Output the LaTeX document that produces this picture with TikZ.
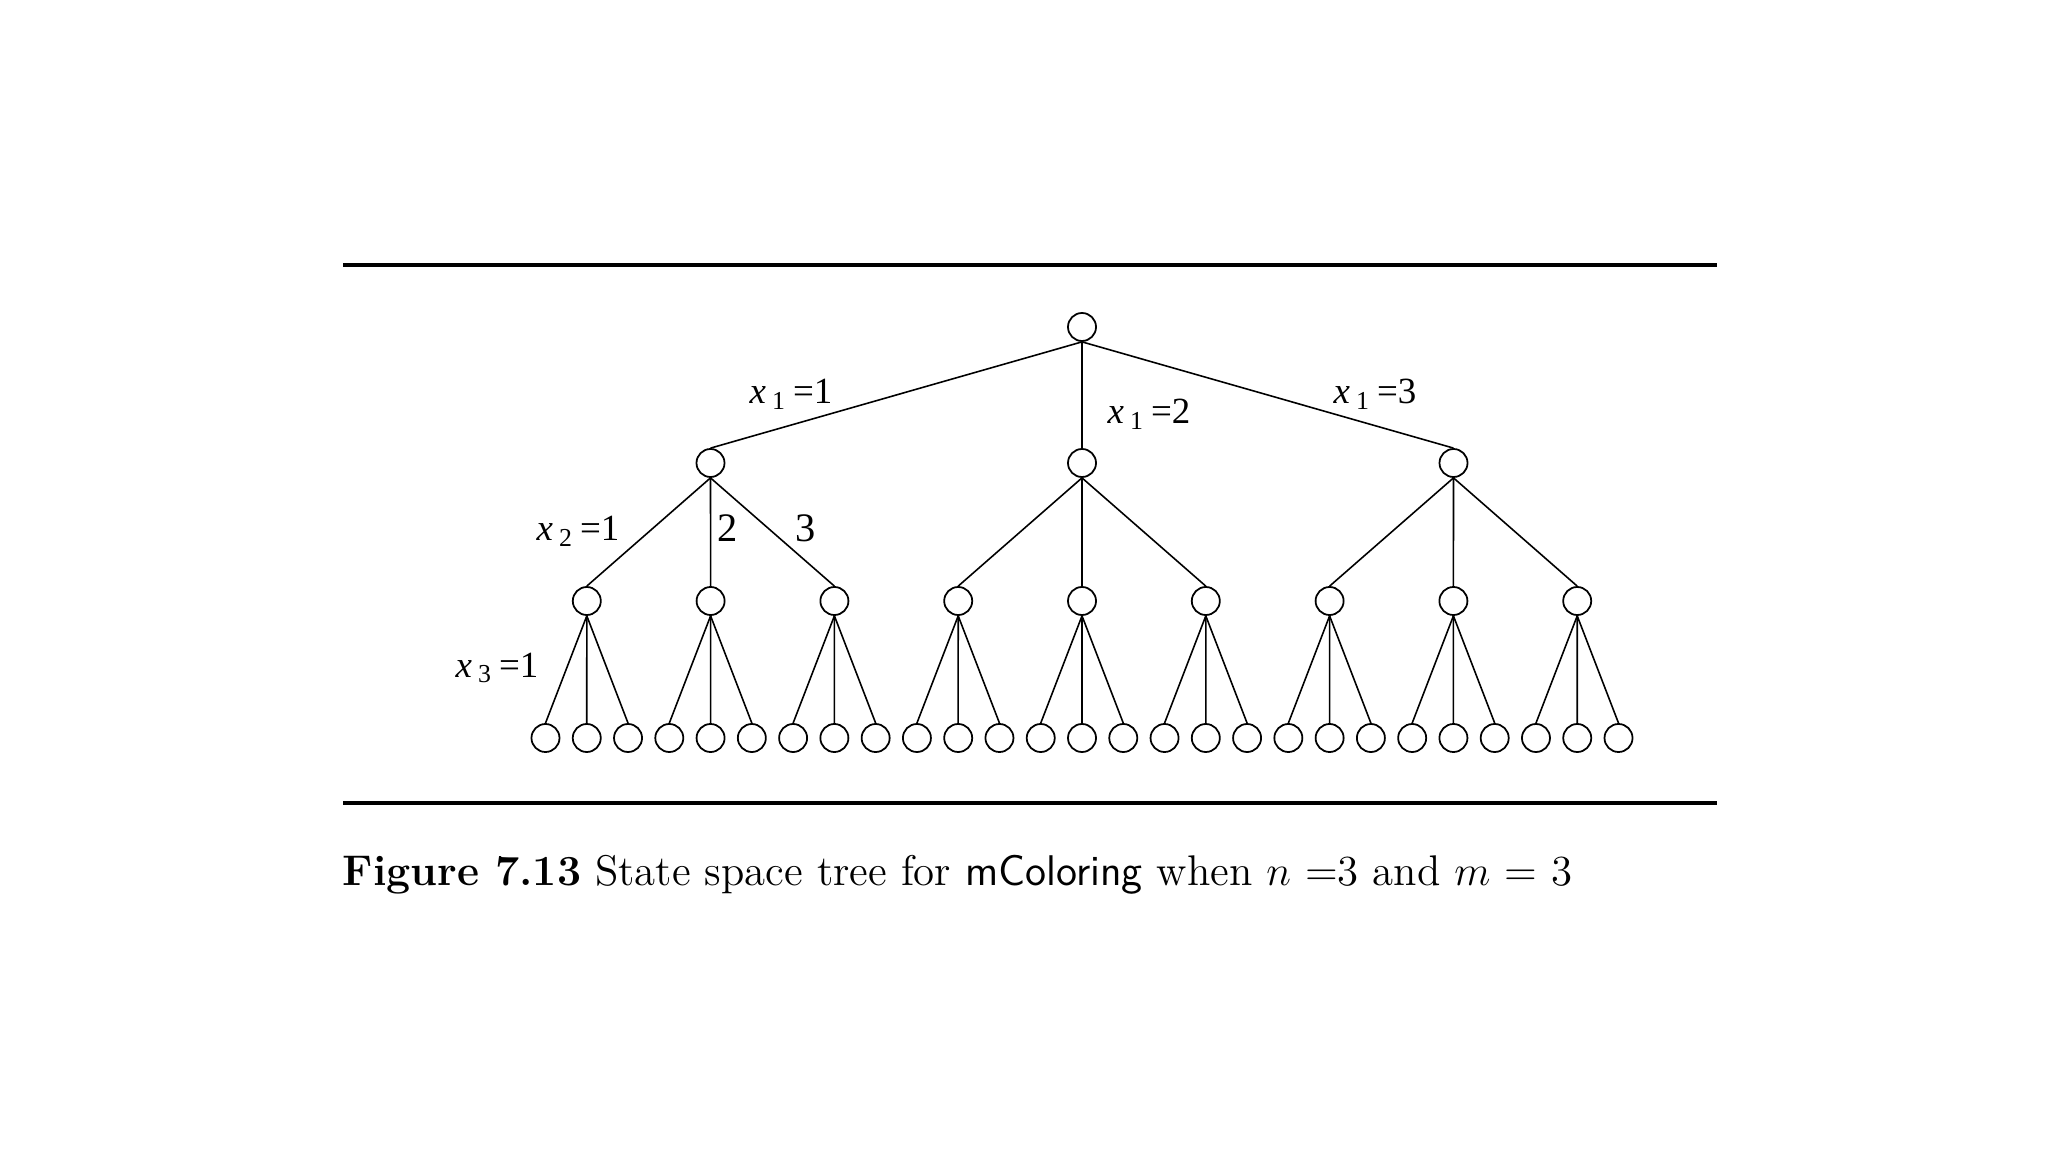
\documentclass[tikz,border=0pt]{standalone}
\usepackage{fontspec}
\newfontfamily\labfont{Liberation Serif}
\begin{document}
\begin{tikzpicture}[x=0.01cm,y=-0.01cm,
  vtx/.style={circle,draw,line width=0.5pt,minimum size=0.28cm,inner sep=0pt},
  edge/.style={line width=0.45pt},
  rule/.style={line width=0.9pt},
  lab/.style={font=\labfont\fontsize{10.5pt}{12pt}\selectfont,inner sep=0pt}]
\useasboundingbox (0,0) rectangle (2048,1152);
\fill[white] (0,0) rectangle (2048,1152);
% rules
\coordinate (tl) at (343,265); \coordinate (tr) at (1717,265);
\coordinate (bl) at (343,803); \coordinate (br) at (1717,803);
\draw[rule] (tl) -- (tr);
\draw[rule] (bl) -- (br);
% root
\node[vtx] (r) at (1082,327) {};
% level 1
\foreach \i in {1,2,3} {
  \node[vtx] (a\i) at ({1082+(\i-2)*371.5},463) {};
  \draw[edge] (r.south) -- (a\i.north);
}
% level 2
\foreach \i in {1,...,9} {
  \pgfmathtruncatemacro{\p}{int((\i-1)/3)+1}
  \node[vtx] (b\i) at ({1082+(\i-5)*123.8},601) {};
  \draw[edge] (a\p.south) -- (b\i.north);
}
% level 3
\foreach \i in {1,...,27} {
  \pgfmathtruncatemacro{\p}{int((\i-1)/3)+1}
  \node[vtx] (c\i) at ({1082+(\i-14)*41.27},738) {};
  \draw[edge] (b\p.south) -- (c\i.north);
}
% labels
\node[lab] (l1) at (791,394) {\textit{x}\,\textsubscript{1}\,=1};
\node[lab] (l2) at (1149,414) {\textit{x}\,\textsubscript{1}\,=2};
\node[lab] (l3) at (1375,394) {\textit{x}\,\textsubscript{1}\,=3};
\node[lab] (l4) at (578,531) {\textit{x}\,\textsubscript{2}\,=1};
\node[lab,font=\labfont\fontsize{11.5pt}{13pt}\selectfont] (l5) at (728,528) {2};
\node[lab,font=\labfont\fontsize{11.5pt}{13pt}\selectfont] (l6) at (806,528) {3};
\node[lab] (l7) at (497,668) {\textit{x}\,\textsubscript{3}\,=1};
% caption
\node[anchor=base west,inner sep=0pt,font=\fontsize{12.2pt}{15pt}\selectfont] (cap) at (342,885)
 {\textbf{Figure 7.13} State space tree for \textsf{mColoring} when $n$ =3 and $m$ = 3};
\end{tikzpicture}
\end{document}
